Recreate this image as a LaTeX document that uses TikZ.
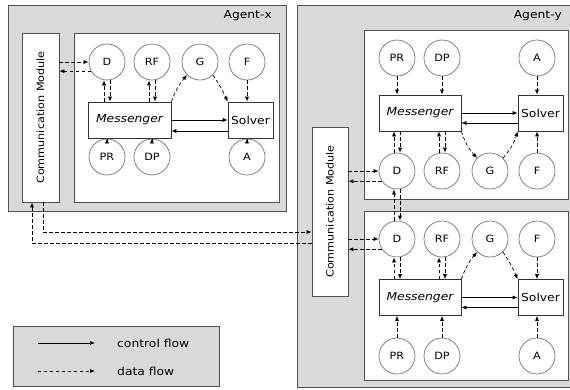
\documentclass[tikz,border=0pt]{standalone}
\usepackage{fontspec}
\setmainfont[FakeStretch=1.12]{DejaVu Sans}
\usetikzlibrary{arrows.meta}
\definecolor{agentgray}{HTML}{D9D9D9}
\definecolor{edge}{HTML}{505050}
\begin{document}
\begin{tikzpicture}[x=1pt,y=-1pt,
  >={Latex[length=5pt,width=4pt]},
  agentbox/.style={draw=edge,line width=0.8pt,fill=agentgray,rectangle,inner sep=0pt},
  whitebox/.style={draw=edge,line width=0.8pt,fill=white,rectangle,inner sep=0pt},
  comp/.style={draw=black!80,line width=0.7pt,fill=white,rectangle,inner sep=0pt,minimum height=36pt,font=\fontsize{11}{13}\selectfont},
  msg/.style={comp,font=\fontsize{11}{13}\selectfont\itshape},
  res/.style={draw=black!55,line width=0.7pt,fill=white,circle,inner sep=0pt,minimum size=36pt,font=\fontsize{10}{12}\selectfont},
  data/.style={->,line width=0.7pt,dash pattern=on 3.5pt off 2.5pt},
  ctrl/.style={->,line width=0.7pt},
  lbl/.style={font=\fontsize{11}{13}\selectfont,inner sep=0pt},
  cmlbl/.style={font=\fontsize{10}{12}\selectfont,inner sep=0pt,rotate=90}
]
\useasboundingbox (0,0) rectangle (570,389);
% ---------------- Agent-x ----------------
\node[agentbox,minimum width=278pt,minimum height=206pt] (ax) at (147,108) {};
\node[lbl,anchor=east] (axl) at (272,16) {Agent-x};
\node[whitebox,minimum width=37pt,minimum height=169pt] (commx) at (40.5,117.5) {};
\node[cmlbl] (commxl) at (40.5,117.5) {Communication Module};
\node[whitebox,minimum width=205pt,minimum height=169pt] (inx) at (176.5,117.5) {};
\node[msg,minimum width=83pt] (Mx) at (129.5,120) {Messenger};
\node[comp,minimum width=45pt] (Sx) at (250.5,120) {Solver};
\node[res] (Dx) at (107,62) {D};
\node[res] (RFx) at (152,62) {RF};
\node[res] (Gx) at (200,62) {G};
\node[res] (Fx) at (247,62) {F};
\node[res] (PRx) at (107,157) {PR};
\node[res] (DPx) at (152,157) {DP};
\node[res] (Ax) at (247,157) {A};
\draw[ctrl] (Mx.east) -- (Sx.west);
\draw[ctrl] ([yshift=-11pt]Sx.west) -- ([yshift=-11pt]Mx.east);
\draw[data] ([xshift=-3pt]Dx.south |- Mx.north) -- ([xshift=-3pt]Dx.south);
\draw[data] ([xshift=3pt]Dx.south) -- ([xshift=3pt]Dx.south |- Mx.north);
\draw[data] ([xshift=-3pt]RFx.south |- Mx.north) -- ([xshift=-3pt]RFx.south);
\draw[data] ([xshift=3pt]RFx.south) -- ([xshift=3pt]RFx.south |- Mx.north);
\draw[data] (Mx.north east) to[bend left=10] (Gx.225);
\draw[data] (Gx.315) to[bend left=5] (Sx.north west);
\draw[data] (Fx.south) -- (Sx.north -| Fx.south);
\draw[data] (PRx.north) -- (Mx.south -| PRx.north);
\draw[data] (DPx.north) -- (Mx.south -| DPx.north);
\draw[data] (Ax.north) -- (Sx.south -| Ax.north);
\draw[data] (commx.east |- Dx.west) -- (Dx.west);
\draw[data] (Dx.210) -- (commx.east |- Dx.210);
% ---------------- Agent-y ----------------
\node[agentbox,minimum width=283pt,minimum height=382pt] (ay) at (438.5,196) {};
\node[lbl,anchor=east] (ayl) at (562,16) {Agent-y};
\node[whitebox,minimum width=36pt,minimum height=169pt] (commy) at (330,211.5) {};
\node[cmlbl] (commyl) at (330,211.5) {Communication Module};
\node[whitebox,minimum width=204pt,minimum height=169pt] (iny1) at (466,114.5) {};
\node[whitebox,minimum width=204pt,minimum height=169pt] (iny2) at (466,295.5) {};
% top instance
\node[msg,minimum width=82pt] (Mt) at (420,113) {Messenger};
\node[comp,minimum width=45pt] (St) at (540.5,113) {Solver};
\node[res] (PRt) at (397,58) {PR};
\node[res] (DPt) at (442,58) {DP};
\node[res] (At) at (537,58) {A};
\node[res] (Dt) at (397,171) {D};
\node[res] (RFt) at (442,171) {RF};
\node[res] (Gt) at (490,171) {G};
\node[res] (Ft) at (537,171) {F};
\draw[ctrl] (Mt.east) -- (St.west);
\draw[ctrl] ([yshift=-10pt]St.west) -- ([yshift=-10pt]Mt.east);
\draw[data] (PRt.south) -- (Mt.north -| PRt.south);
\draw[data] (DPt.south) -- (Mt.north -| DPt.south);
\draw[data] (At.south) -- (St.north -| At.south);
\draw[data] ([xshift=-3pt]Dt.north) -- ([xshift=-3pt]Dt.north |- Mt.south);
\draw[data] ([xshift=3pt]Dt.north |- Mt.south) -- ([xshift=3pt]Dt.north);
\draw[data] ([xshift=-3pt]RFt.north) -- ([xshift=-3pt]RFt.north |- Mt.south);
\draw[data] ([xshift=3pt]RFt.north |- Mt.south) -- ([xshift=3pt]RFt.north);
\draw[data] (Mt.south east) to[bend right=12] (Gt.135);
\draw[data] (Gt.45) to[bend right=12] (St.south west);
\draw[data] (Ft.north) -- (St.south -| Ft.north);
\draw[data] (commy.east |- Dt.west) -- (Dt.west);
\draw[data] (Dt.214) -- (commy.east |- Dt.214);
% bottom instance
\node[msg,minimum width=82pt] (Mb) at (420,297.5) {Messenger};
\node[comp,minimum width=45pt] (Sb) at (540.5,297.5) {Solver};
\node[res] (Db) at (397,239) {D};
\node[res] (RFb) at (442,239) {RF};
\node[res] (Gb) at (490,239) {G};
\node[res] (Fb) at (537,239) {F};
\node[res] (PRb) at (397,356) {PR};
\node[res] (DPb) at (442,356) {DP};
\node[res] (Ab) at (537,356) {A};
\draw[ctrl] (Mb.east) -- (Sb.west);
\draw[ctrl] ([yshift=-10pt]Sb.west) -- ([yshift=-10pt]Mb.east);
\draw[data] ([xshift=-3pt]Db.south |- Mb.north) -- ([xshift=-3pt]Db.south);
\draw[data] ([xshift=3pt]Db.south) -- ([xshift=3pt]Db.south |- Mb.north);
\draw[data] ([xshift=-3pt]RFb.south |- Mb.north) -- ([xshift=-3pt]RFb.south);
\draw[data] ([xshift=3pt]RFb.south) -- ([xshift=3pt]RFb.south |- Mb.north);
\draw[data] (Mb.north east) to[bend left=10] (Gb.225);
\draw[data] (Gb.315) to[bend left=5] (Sb.north west);
\draw[data] (Fb.south) -- (Sb.north -| Fb.south);
\draw[data] (PRb.north) -- (Mb.south -| PRb.north);
\draw[data] (DPb.north) -- (Mb.south -| DPb.north);
\draw[data] (Ab.north) -- (Sb.south -| Ab.north);
\draw[data] (commy.east |- Db.west) -- (Db.west);
\draw[data] (Db.214) -- (commy.east |- Db.214);
% D top <-> D bottom
\draw[data] ([xshift=-3pt]Db.north) -- ([xshift=-3pt]Dt.south);
\draw[data] ([xshift=3pt]Dt.south) -- ([xshift=3pt]Db.north);
% ---------------- inter-agent links ----------------
\coordinate (k1) at (43,232);
\coordinate (k2) at (32,243);
\draw[data] (commx.south -| k1) -- (k1) -- (commy.west |- k1);
\draw[data] (commy.west |- k2) -- (k2) -- (commx.south -| k2);
% ---------------- legend ----------------
\node[agentbox,minimum width=206pt,minimum height=60pt] (leg) at (116,356) {};
\coordinate (l1a) at (38,343);
\coordinate (l1b) at (95,343);
\coordinate (l2a) at (38,371);
\coordinate (l2b) at (95,371);
\draw[ctrl] (l1a) -- (l1b);
\draw[->,line width=0.7pt,dash pattern=on 3pt off 3pt] (l2a) -- (l2b);
\node[lbl,anchor=west] (lt1) at (117,343) {control flow};
\node[lbl,anchor=west] (lt2) at (117,371) {data flow};
\end{tikzpicture}
\end{document}
